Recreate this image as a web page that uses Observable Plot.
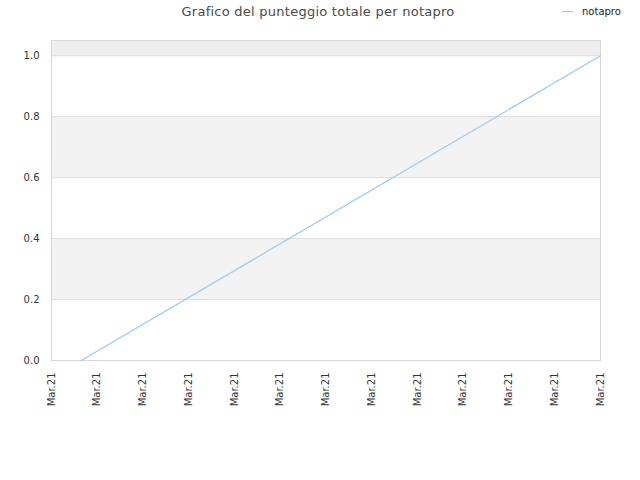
<!DOCTYPE html>
<html>
<head>
<meta charset="utf-8">
<script src="https://cdn.jsdelivr.net/npm/d3@7"></script>
<script src="https://cdn.jsdelivr.net/npm/@observablehq/plot@0.6"></script>
<style>
  html, body { margin: 0; padding: 0; background: #fff; }
  #wrap { position: relative; width: 640px; height: 480px; font-family: "DejaVu Sans", sans-serif; }
  #title { position: absolute; left: 0; width: 636px; top: 4px; text-align: center; font-size: 13px; letter-spacing: 0.25px; color: #4a4a4a; font-variant-ligatures: none; }
  #legend { position: absolute; left: 562px; top: 6px; font-size: 10px; color: #222; display: flex; align-items: center; }
  #legend .sw { width: 11px; height: 0; border-top: 1.5px solid #99c8f7; margin-right: 9px; }
  #chart { position: absolute; left: 0; top: 0; }
</style>
</head>
<body>
<div id="wrap">
  <div id="chart"></div>
  <div id="title">Grafico del punteggio totale per notapro</div>
  <div id="legend"><span class="sw"></span><span>notapro</span></div>
</div>
<script>
// Data
const seriesName = "notapro";
const xPositions = [0.65, 12];       // position along the Mar.21 tick sequence
const scores = [0, 1];
const tickLabels = ["Mar.21","Mar.21","Mar.21","Mar.21","Mar.21","Mar.21","Mar.21","Mar.21","Mar.21","Mar.21","Mar.21","Mar.21","Mar.21"];
const yTicks = [0, 0.2, 0.4, 0.6, 0.8, 1.0];
const bandLow = [0.2, 0.6, 1.0];
const bandHigh = [0.4, 0.8, 1.05];
const bandFill = ["#f3f3f3", "#f3f3f3", "#eeeeee"];

const lineData = xPositions.map((x, i) => ({x, y: scores[i]}));
const bands = bandLow.map((lo, i) => ({lo, hi: bandHigh[i], fill: bandFill[i]}));
const tickIdx = tickLabels.map((_, i) => i);

const chart = Plot.plot({
  width: 640,
  height: 480,
  marginTop: 40,
  marginBottom: 120,
  marginLeft: 51,
  marginRight: 40,
  style: {fontFamily: "DejaVu Sans, sans-serif", fontSize: "10px", color: "#333", background: "transparent"},
  x: {domain: [0, tickLabels.length - 1]},
  y: {domain: [0, 1.05]},
  marks: [
    Plot.rectY(bands, {x1: 0, x2: tickLabels.length - 1, y1: "lo", y2: "hi", fill: d => d.fill}),
    Plot.ruleY(yTicks.slice(1), {stroke: "#dcdcdc", strokeWidth: 1}),
    Plot.frame({stroke: "#d8d8d8"}),
    Plot.axisY({ticks: yTicks, tickSize: 0, tickPadding: 12, tickFormat: d3.format(".1f"), label: null}),
    Plot.axisX({ticks: tickIdx, tickSize: 0, tickPadding: 12, tickRotate: -90, tickFormat: i => tickLabels[i], label: null}),
    Plot.line(lineData, {x: "x", y: "y", stroke: "#99c8f7", strokeWidth: 1.2})
  ]
});
document.getElementById("chart").appendChild(chart);
</script>
</body>
</html>
